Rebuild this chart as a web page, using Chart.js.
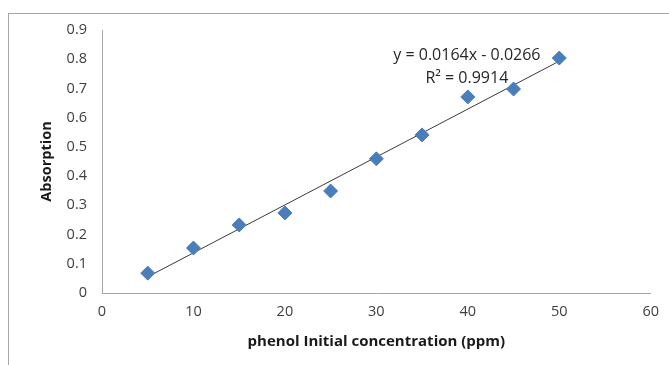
<!DOCTYPE html>
<html>
<head>
<meta charset="utf-8">
<script src="https://cdn.jsdelivr.net/npm/chart.js@4/dist/chart.umd.min.js"></script>
<style>
html,body{margin:0;padding:0;background:#fff;}
#wrap{position:relative;width:669px;height:365px;overflow:hidden;}
#frame{position:absolute;left:8px;top:13px;width:700px;height:400px;border-left:1px solid #a6a6a6;border-top:1px solid #a6a6a6;}
canvas{position:absolute;left:0;top:0;}
</style>
</head>
<body>
<div id="wrap">
<div id="frame"></div>
<canvas id="c" width="669" height="365"></canvas>
</div>
<script>
const concentrations = [5, 10, 15, 20, 25, 30, 35, 40, 45, 50];
const absorption = [0.068, 0.154, 0.233, 0.274, 0.349, 0.459, 0.541, 0.671, 0.698, 0.804];
const trendSlope = 0.0164;
const trendIntercept = -0.0266;
const trendRange = [5, 50];
const equationLines = ["y = 0.0164x - 0.0266", "R\u00B2 = 0.9914"];
const xTitle = "phenol Initial concentration (ppm)";
const yTitle = "Absorption";

const FONT = "'Open Sans', 'Liberation Sans', Arial, sans-serif";

const trendPoints = trendRange.map(x => ({x: x, y: trendSlope * x + trendIntercept}));
const scatterPoints = concentrations.map((x, i) => ({x: x, y: absorption[i]}));

const equationPlugin = {
  id: 'equation',
  afterDatasetsDraw(chart) {
    const ctx = chart.ctx;
    const xs = chart.scales.x, ys = chart.scales.y;
    ctx.save();
    ctx.font = "16px " + FONT;
    ctx.fillStyle = "#262626";
    ctx.textAlign = "center";
    ctx.textBaseline = "middle";
    const cx = xs.getPixelForValue(39.9);
    ctx.fillText(equationLines[0], cx, ys.getPixelForValue(0.814));
    ctx.fillText(equationLines[1], cx, ys.getPixelForValue(0.735));
    ctx.restore();
  }
};

new Chart(document.getElementById('c'), {
  type: 'scatter',
  data: {
    datasets: [
      {
        type: 'line',
        data: trendPoints,
        borderColor: '#3a3a3a',
        borderWidth: 1,
        pointRadius: 0,
        fill: false,
        order: 2
      },
      {
        data: scatterPoints,
        pointStyle: 'rectRot',
        pointRadius: 7,
        pointHoverRadius: 7,
        backgroundColor: '#4A7EBB',
        borderColor: '#4A7EBB',
        borderWidth: 1,
        order: 1
      }
    ]
  },
  options: {
    responsive: false,
    animation: false,
    events: [],
    layout: {padding: {left: 36, right: 17, top: 30, bottom: 14}},
    plugins: {legend: {display: false}, tooltip: {enabled: false}},
    scales: {
      x: {
        type: 'linear', min: 0, max: 60,
        ticks: {stepSize: 10, padding: 10, color: '#404040', font: {family: FONT, size: 14.5}},
        grid: {display: false, drawTicks: false},
        border: {display: true, color: '#a6a6a6', width: 1},
        title: {display: true, text: xTitle, color: '#1a1a1a', font: {family: FONT, size: 15, weight: 'bold'}, padding: {top: 6, bottom: 0}},
        afterFit(s) { s.height = 58; }
      },
      y: {
        type: 'linear', min: 0, max: 0.9,
        ticks: {stepSize: 0.1, padding: 15, color: '#404040', font: {family: FONT, size: 14.5},
          callback: v => Math.round(v * 10) / 10 + ''},
        grid: {display: false, drawTicks: false},
        border: {display: true, color: '#a6a6a6', width: 1},
        title: {display: true, text: yTitle, color: '#1a1a1a', font: {family: FONT, size: 14.5, weight: 'bold'}, padding: 2},
        afterFit(s) { s.width = 66; }
      }
    }
  },
  plugins: [equationPlugin]
});
</script>
</body>
</html>
